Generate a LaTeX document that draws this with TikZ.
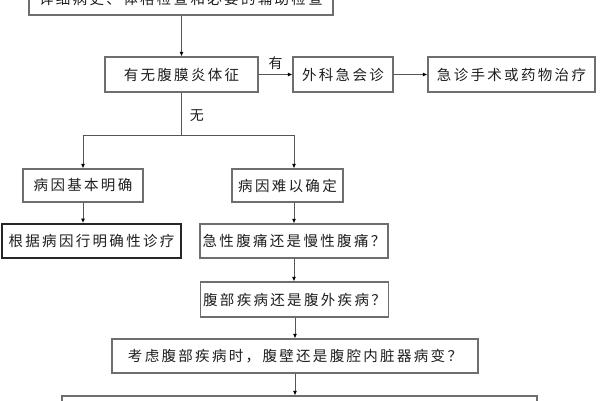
\documentclass[tikz,border=0pt]{standalone}
\usepackage{fontspec}
\newfontfamily\cjk[LetterSpace=16]{Noto Sans CJK SC}
\usetikzlibrary{arrows.meta}
\definecolor{boxline}{HTML}{6E6E6E}
\definecolor{txt}{HTML}{1E1E1E}
\definecolor{conn}{HTML}{555555}
\begin{document}
\begin{tikzpicture}[x=1pt,y=-1pt,
  box/.style={draw=boxline,line width=1.2pt,inner sep=0pt,minimum height=35pt,
    font=\cjk\fontsize{14.5}{17}\selectfont,text=txt},
  boldbox/.style={box,draw=black!85,line width=1.9pt},
  arr/.style={draw=conn,line width=0.9pt,-{Latex[length=4.5pt,width=4pt,black]}},
  ln/.style={draw=conn,line width=0.9pt},
  lbl/.style={font=\cjk\fontsize{14}{16}\selectfont,text=txt,inner sep=0pt}]
\useasboundingbox (0,0) rectangle (600,400);
\begin{scope}
\clip (0,0) rectangle (600,400);
\node[box,minimum width=304pt,minimum height=32pt] (top) at (181,-1) {详细病史、体格检查和必要的辅助检查};
\node[box,minimum width=153pt] (n1) at (181.5,74.5) {有无腹膜炎体征};
\node[box,minimum width=100pt] (n2) at (343,74.5) {外科急会诊};
\node[box,minimum width=167pt] (n3) at (511.5,74.5) {急诊手术或药物治疗};
\node[box,minimum width=120pt,minimum height=33pt] (n4) at (83,185.5) {病因基本明确};
\node[box,minimum width=111pt,minimum height=33pt] (n5) at (287.5,185.5) {病因难以确定};
\node[boldbox,minimum width=179pt,minimum height=34pt] (n6) at (91.5,241) {根据病因行明确性诊疗};
\node[box,minimum width=188pt,minimum height=34pt] (n7) at (294,241) {急性腹痛还是慢性腹痛？};
\node[box,minimum width=188pt,minimum height=35pt] (n8) at (294.5,299.5) {腹部疾病还是腹外疾病？};
\node[box,minimum width=366pt,minimum height=34pt] (n9) at (295,356) {考虑腹部疾病时，腹壁还是腹腔内脏器病变？};
\node[box,minimum width=475pt,minimum height=34pt] (n10) at (299.5,413) {};
\end{scope}
\coordinate (br) at (181.5,135);
\coordinate (bl) at (83,135);
\coordinate (brr) at (294,135);
\draw[arr] (top.south -| n1.north) -- (n1.north);
\draw[arr] (n1.east) -- (n2.west) node[lbl,midway,above=4pt] {有};
\draw[arr] (n2.east) -- (n3.west);
\draw[ln] (n1.south) -- (br) node[lbl,pos=0.55,right=8pt] {无};
\draw[ln] (bl) -- (brr);
\draw[arr] (bl) -- (n4.north);
\draw[arr] (brr) -- (brr |- n5.north);
\draw[arr] (n4.south) -- (n4.south |- n6.north);
\draw[arr] (n5.south -| brr) -- (n7.north -| brr);
\draw[arr] (n7.south) -- (n7.south |- n8.north);
\draw[arr] (n8.south -| n9.north) -- (n9.north);
\draw[arr] (n9.south) -- (n9.south |- n10.north);
\end{tikzpicture}
\end{document}
